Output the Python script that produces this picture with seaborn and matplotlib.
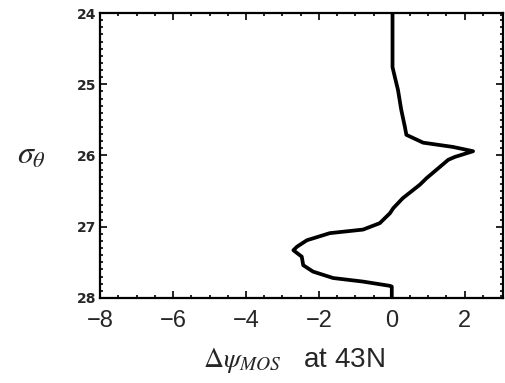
import matplotlib
matplotlib.use("Agg")
import matplotlib.pyplot as plt
from matplotlib.ticker import MultipleLocator
import seaborn as sns
import pandas as pd

# Profile of delta psi (MOS) against potential density at 43N
sigma_theta = [24.00, 24.76, 24.89, 25.08, 25.36, 25.60, 25.71, 25.82, 25.88,
               25.94, 26.02, 26.06, 26.32, 26.41, 26.60, 26.74, 26.81, 26.95,
               27.04, 27.09, 27.19, 27.28, 27.33, 27.42, 27.54, 27.63, 27.72,
               27.77, 27.83, 27.84, 28.00]
delta_psi = [0.02, 0.02, 0.08, 0.17, 0.26, 0.36, 0.40, 0.86, 1.68,
             2.23, 1.73, 1.55, 0.95, 0.77, 0.30, 0.04, -0.05, -0.33,
             -0.79, -1.70, -2.33, -2.60, -2.70, -2.47, -2.43, -2.16, -1.61,
             -0.79, -0.05, 0.00, 0.00]

x_ticks = [-8, -6, -4, -2, 0, 2]
y_ticks = [24, 25, 26, 27, 28]

df = pd.DataFrame({"sigma": sigma_theta, "dpsi": delta_psi})

sns.set_theme(style="ticks")
plt.rcParams["mathtext.fontset"] = "stix"
plt.rcParams["font.family"] = ["Liberation Sans", "DejaVu Sans"]

fig = plt.figure(figsize=(5.06, 3.83), dpi=100)
ax = fig.add_axes([0.198, 0.222, 0.796, 0.744])

sns.lineplot(data=df, x="dpsi", y="sigma", sort=False, estimator=None,
             color="black", linewidth=2.7, ax=ax)

ax.set_xlim(-8, 3.05)
ax.set_ylim(28, 24)
ax.set_xticks(x_ticks)
ax.set_yticks(y_ticks)
ax.set_xticklabels(["\u2212" + str(abs(v)) if v < 0 else str(v) for v in x_ticks],
                   fontsize=17, family="Liberation Sans")
ax.set_yticklabels([str(v) for v in y_ticks], fontsize=10, fontweight="bold",
                   family="DejaVu Sans")
ax.xaxis.set_minor_locator(MultipleLocator(0.5))
ax.yaxis.set_minor_locator(MultipleLocator(0.1))
ax.tick_params(which="both", direction="in", top=True, right=True,
               color="black", width=1.2)
ax.tick_params(which="major", length=5)
ax.tick_params(which="minor", length=2.5)
ax.tick_params(axis="x", which="major", pad=9)
ax.tick_params(axis="y", which="major", pad=3)
for s in ax.spines.values():
    s.set_linewidth(1.6)
    s.set_color("black")

ax.set_xlabel(r"$\Delta\psi_{MOS}$   at 43N", fontsize=20)
ax.xaxis.set_label_coords(0.48, -0.17)
ax.set_ylabel(r"$\sigma_\theta$", fontsize=23, rotation=0, va="center")
ax.yaxis.set_label_coords(-0.17, 0.50)

fig.savefig("out.png", dpi=100, facecolor="white")
